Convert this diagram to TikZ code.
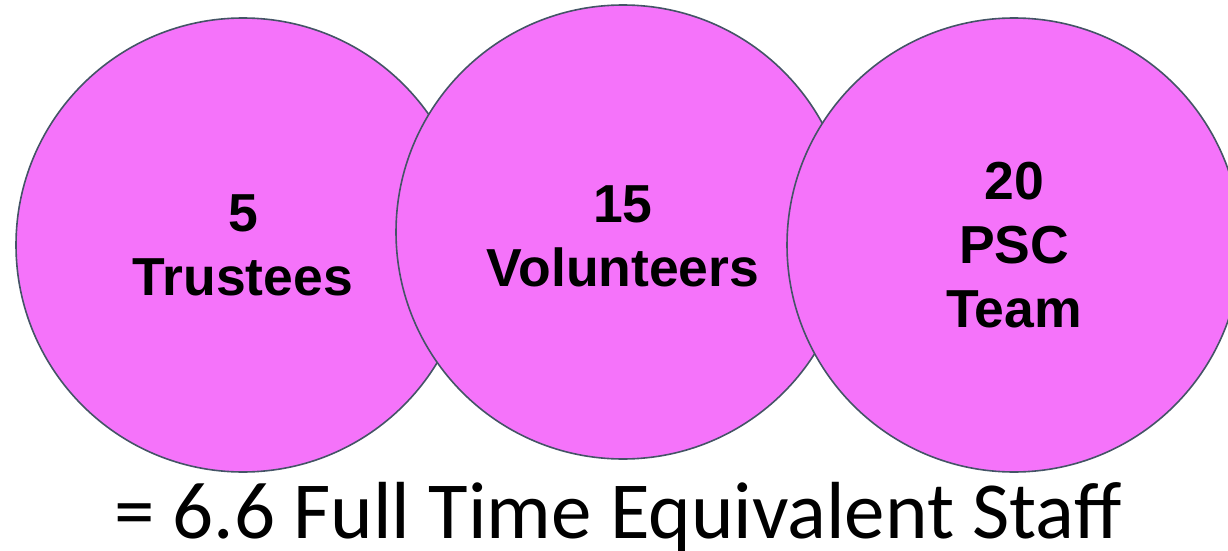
\documentclass[tikz,border=0pt]{standalone}
\usepackage{fontspec}
\setmainfont{Liberation Sans}
\newfontfamily\calib{Carlito}
\definecolor{pinkfill}{RGB}{245,115,250}
\definecolor{rimcol}{RGB}{68,84,102}
\begin{document}
\begin{tikzpicture}[x=1pt,y=-1pt,
  bubble/.style={circle,draw=rimcol,line width=1.6pt,fill=pinkfill,inner sep=0pt,
    minimum size=454pt},
  bubbletext/.style={align=center,inner sep=0pt,font=\fontsize{53.5}{64}\selectfont\bfseries}]
\useasboundingbox (0,0) rectangle (1228,551);
\node[bubble] (c1) at (243,245) {};
\node[bubbletext] (t1) at (243,245) {5\\Trustees};
\node[bubble] (c2) at (623,232) {};
\node[bubbletext] (t2) at (623,236) {15\\Volunteers};
\node[bubble] (c3) at (1014,245) {};
\node[bubbletext] (t3) at (1014,245) {20\\PSC\\Team};
\node[font=\calib\fontsize{81}{97}\selectfont,anchor=base] (fte) at (618,538) {= 6.6 Full Time Equivalent Staff};
\end{tikzpicture}
\end{document}
